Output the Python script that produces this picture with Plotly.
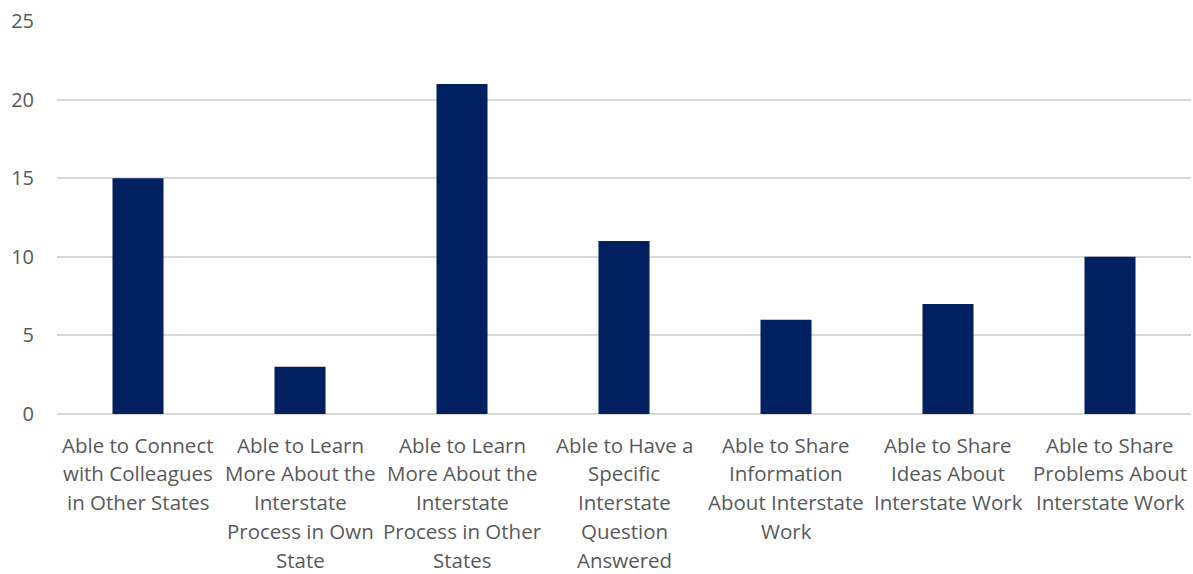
import plotly.graph_objects as go

# Survey responses: reported benefits of interstate collaboration
categories = [
    "Able to Connect with Colleagues in Other States",
    "Able to Learn More About the Interstate Process in Own State",
    "Able to Learn More About the Interstate Process in Other States",
    "Able to Have a Specific Interstate Question Answered",
    "Able to Share Information About Interstate Work",
    "Able to Share Ideas About Interstate Work",
    "Able to Share Problems About Interstate Work",
]
label_lines = [
    ["Able to Connect", "with Colleagues", "in Other States"],
    ["Able to Learn", "More About the", "Interstate", "Process in Own", "State"],
    ["Able to Learn", "More About the", "Interstate", "Process in Other", "States"],
    ["Able to Have a", "Specific", "Interstate", "Question", "Answered"],
    ["Able to Share", "Information", "About Interstate", "Work"],
    ["Able to Share", "Ideas About", "Interstate Work"],
    ["Able to Share", "Problems About", "Interstate Work"],
]
counts = [15, 3, 21, 11, 6, 7, 10]
y_ticks = [0, 5, 10, 15, 20, 25]

FONT = "Open Sans"
TEXT_COLOR = "#595959"

fig = go.Figure(
    go.Bar(
        x=categories,
        y=counts,
        marker=dict(color="#002060", line=dict(width=0)),
    )
)

# Multi-line category labels below the axis
annotations = []
for cat, lines in zip(categories, label_lines):
    for i, line in enumerate(lines):
        annotations.append(
            dict(
                x=cat, xref="x", y=0, yref="paper",
                text=line, showarrow=False,
                yanchor="middle", xanchor="center",
                yshift=-30.5 - 28.8 * i,
                font=dict(family=FONT, size=20.5, color=TEXT_COLOR),
            )
        )

fig.update_layout(
    width=1193, height=574,
    margin=dict(l=57, r=2, t=21, b=160),
    paper_bgcolor="white", plot_bgcolor="white",
    bargap=0.685,
    showlegend=False,
    annotations=annotations,
    font=dict(family=FONT, size=20, color=TEXT_COLOR),
)
fig.update_xaxes(showticklabels=False, showgrid=False, zeroline=False, showline=False)
fig.update_yaxes(
    range=[0, 25], tickvals=y_ticks,
    showgrid=True, gridcolor="#d9d9d9", gridwidth=1.5,
    zeroline=True, zerolinecolor="#d9d9d9", zerolinewidth=1.5,
    showline=False, ticks="", ticklabelstandoff=22,
    tickfont=dict(family=FONT, size=20, color=TEXT_COLOR),
)

fig.write_html("out.html")
